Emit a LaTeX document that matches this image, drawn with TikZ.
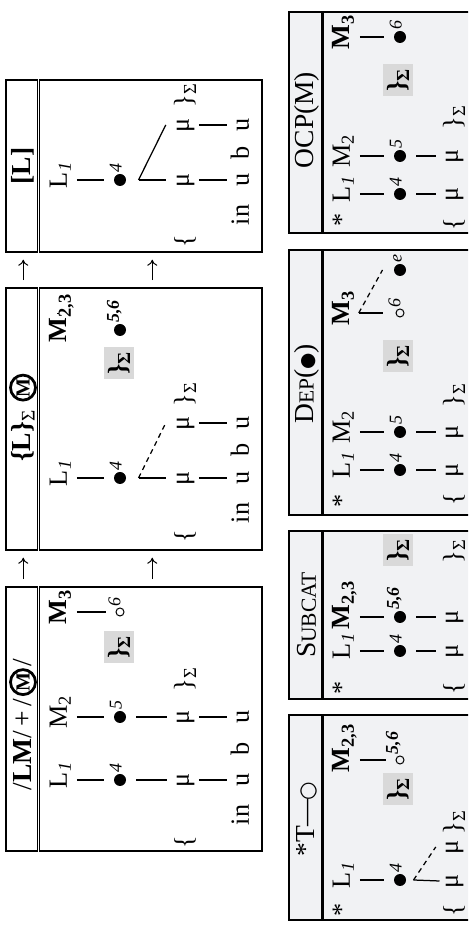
\documentclass[tikz,border=0pt]{standalone}
\usepackage{fontspec}
\setmainfont{Liberation Serif}
\usepackage{tikz}
\usetikzlibrary{arrows.meta, positioning}
\newfontfamily\symfont{DejaVu Sans}
\definecolor{panelgray}{HTML}{F1F2F4}
\definecolor{hilite}{HTML}{D9D9D9}

\begin{document}
\begin{tikzpicture}[x=0.4pt, y=-0.4pt, rotate=90, transform shape,
  font=\fontsize{10.5}{12.5}\selectfont, >={To[length=2.4pt,width=4pt]},
  box/.style={draw, line width=0.6pt, inner sep=0pt},
  cbox/.style={box, fill=panelgray},
  dsep/.style={double, double distance=0.55pt, line width=0.4pt},
  csep/.style={line width=1.1pt},
  ttl/.style={font=\fontsize{11}{13}\selectfont, inner sep=0pt},
  circm/.style={circle, draw, line width=1.1pt, inner sep=0pt, minimum size=10pt, font=\fontsize{8}{9}\selectfont\bfseries},
  lab/.style={inner sep=0pt, text height=7pt, text depth=0pt},
  mu/.style={inner sep=0pt, text height=4.6pt, text depth=0pt},
  ft/.style={inner sep=0pt},
  hilit/.style={fill=hilite, inner sep=1.6pt, font=\fontsize{10.5}{12.5}\selectfont\bfseries},
  tbu/.style={circle, fill, inner sep=0pt, minimum size=4.8pt},
  etbu/.style={circle, draw, line width=0.4pt, inner sep=0pt, minimum size=3.2pt},
  idx/.style={font=\fontsize{7.2}{8}\selectfont\itshape, inner sep=0.6pt},
  bidx/.style={idx, font=\fontsize{7.2}{8}\selectfont\bfseries\itshape},
  assoc/.style={line width=0.5pt, shorten <=3.8pt, shorten >=3.8pt},
  bassoc/.style={assoc, line width=1.1pt},
  link/.style={line width=0.5pt},
  ins/.style={line width=0.5pt, dash pattern=on 2pt off 1.6pt},
  arr/.style={->, line width=0.4pt, shorten <=2.8pt, shorten >=2.8pt}]

\clip (0,0) rectangle (925,468);

% Candidate boxes (upper row)
\node[box, minimum width=105.6pt, minimum height=102.4pt] (boxA) at (206,134) {};
\node[box, minimum width=104.8pt, minimum height=102.4pt] (boxB) at (506,134) {};
\node[box, minimum width=68.8pt, minimum height=102.4pt] (boxC) at (759,134) {};
\draw[dsep] ([yshift=-13.4pt]boxA.north west) -- ([yshift=-13.4pt]boxA.north east);
\draw[dsep] ([yshift=-13.4pt]boxB.north west) -- ([yshift=-13.4pt]boxB.north east);
\draw[dsep] ([yshift=-13.4pt]boxC.north west) -- ([yshift=-13.4pt]boxC.north east);

% Constraint boxes (lower row)
\node[cbox, minimum width=82pt, minimum height=92.4pt] (boxD) at (107.5,404.5) {};
\node[cbox, minimum width=67.2pt, minimum height=92.4pt] (boxE) at (310,404.5) {};
\node[cbox, minimum width=106pt, minimum height=92.4pt] (boxF) at (542.5,404.5) {};
\node[cbox, minimum width=88.4pt, minimum height=92.4pt] (boxG) at (802.5,404.5) {};
\draw[csep] ([yshift=-13.6pt]boxD.north west) -- ([yshift=-13.6pt]boxD.north east);
\draw[csep] ([yshift=-13.6pt]boxE.north west) -- ([yshift=-13.6pt]boxE.north east);
\draw[csep] ([yshift=-13.6pt]boxF.north west) -- ([yshift=-13.6pt]boxF.north east);
\draw[csep] ([yshift=-13.6pt]boxG.north west) -- ([yshift=-13.6pt]boxG.north east);

% Titles
\node[ttl, anchor=east] (tA) at (227,23) {/\textbf{LM}/\,+\,/};
\node[circm, right=0.8pt of tA] (cA) {M};
\node[ttl, right=0.4pt of cA] (tA2) {/};
\node[ttl, anchor=east] (tB) at (516,23) {\textbf{\{L\}}\textsubscript{Σ}};
\node[circm, right=3pt of tB] (cB) {M};
\node[ttl] (tC) at (759,23) {\textbf{[L]}};
\node[ttl] (tD) at (106,307) {*T\kern-0.4pt—\kern-0.4pt{\symfont\fontsize{8.5}{9}\selectfont ○}};
\node[ttl] (tE) at (310,307) {S{\fontsize{8.6}{9}\selectfont UBCAT}};
\node[ttl] (tF) at (541,307) {D{\fontsize{8.6}{9}\selectfont EP}({\symfont\fontsize{7.5}{8}\selectfont ●})};
\node[ttl] (tG) at (805,307) {OCP(M)};

% Arrows between candidates
\draw[arr] ([yshift=-7.2pt]boxA.north east) -- ([yshift=-7.2pt]boxB.north west);
\draw[arr] ([yshift=-58.8pt]boxA.north east) -- ([yshift=-58.8pt]boxB.north west);
\draw[arr] ([yshift=-7.2pt]boxB.north east) -- ([yshift=-7.2pt]boxC.north west);
\draw[arr] ([yshift=-58.8pt]boxB.north east) -- ([yshift=-58.8pt]boxC.north west);

% /LM/ + /M/
\node[lab] (a-l1) at (145,58) {L\rlap{\textsubscript{\textit{1}}}};
\node[lab] (a-m2) at (208,58) {M\rlap{\textsubscript{2}}};
\node[lab] (a-m3) at (313,58) {\textbf{M}\rlap{\textsubscript{\textbf{3}}}};
\node[tbu, label={[idx]-35:4}] (a-d4) at (145,120) {};
\node[tbu, label={[idx]-35:5}] (a-d5) at (208,120) {};
\node[etbu, label={[idx]-35:6}] (a-c6) at (313,120) {};
\node[hilit] (a-ft) at (278,119) {\}\textsubscript{Σ}};
\node[mu] (a-mu1) at (145,183) {μ};
\node[mu] (a-mu2) at (208,183) {μ};
\node[ft] (a-lb) at (83,185) {\{};
\node[ft] (a-rb) at (246,185) {\}\textsubscript{Σ}};
\node[mu] (a-s1) at (110,243) {in};
\node[mu] (a-s2) at (145,243) {u};
\node[mu] (a-s3) at (176,243) {b};
\node[mu] (a-s4) at (208,243) {u};
\draw[assoc] (a-l1) -- (a-d4);
\draw[assoc] (a-m2) -- (a-d5);
\draw[bassoc] (a-m3) -- (a-c6);
\draw[assoc] (a-d4) -- (a-mu1);
\draw[assoc] (a-d5) -- (a-mu2);
\draw[assoc] (a-mu1) -- (a-s2);
\draw[assoc] (a-mu2) -- (a-s4);

% {L} M
\node[lab] (b-l1) at (447,58) {L\rlap{\textsubscript{\textit{1}}}};
\node[lab] (b-m23) at (595,58) {\textbf{M}\rlap{\textsubscript{\textbf{2,3}}}};
\node[tbu, label={[idx]-35:4}] (b-d4) at (447,120) {};
\node[tbu, label={[bidx]-35:{5,6}}] (b-d56) at (595,120) {};
\node[hilit] (b-ft) at (562,119) {\}\textsubscript{Σ}};
\node[mu] (b-mu1) at (447,183) {μ};
\node[mu] (b-mu2) at (502,183) {μ};
\node[ft] (b-lb) at (389,185) {\{};
\node[ft] (b-rb) at (531,185) {\}\textsubscript{Σ}};
\node[mu] (b-s1) at (412,243) {in};
\node[mu] (b-s2) at (447,243) {u};
\node[mu] (b-s3) at (475,243) {b};
\node[mu] (b-s4) at (502,243) {u};
\coordinate[below=4.8pt of b-d4] (b-k4);
\coordinate[above=4.4pt of b-mu1] (b-t1);
\coordinate[above=4.4pt of b-mu2] (b-t2);
\coordinate[right=5.6pt of b-m23] (b-m23r);
\draw[assoc] (b-l1) -- (b-d4);
\draw[link] (b-k4) -- (b-t1);
\draw[ins] (b-k4) -- (b-t2);
\draw[bassoc, shorten >=6.6pt] (b-m23r) -- (b-m23r -| b-d56);
\draw[assoc] (b-mu1) -- (b-s2);
\draw[assoc] (b-mu2) -- (b-s4);

% [L]
\node[lab] (c-l1) at (745,58) {L\rlap{\textsubscript{\textit{1}}}};
\node[tbu, label={[idx]-35:4}] (c-d4) at (745,120) {};
\node[mu] (c-mu1) at (745,183) {μ};
\node[mu] (c-mu2) at (800,183) {μ};
\node[ft] (c-lb) at (684,185) {\{};
\node[ft] (c-rb) at (830,185) {\}\textsubscript{Σ}};
\node[mu] (c-s1) at (710,243) {in};
\node[mu] (c-s2) at (745,243) {u};
\node[mu] (c-s3) at (772,243) {b};
\node[mu] (c-s4) at (800,243) {u};
\coordinate[below=4.8pt of c-d4] (c-k4);
\coordinate[above=4.4pt of c-mu1] (c-t1);
\coordinate[above=4.4pt of c-mu2] (c-t2);
\draw[assoc] (c-l1) -- (c-d4);
\draw[link] (c-k4) -- (c-t1);
\draw[link] (c-k4) -- (c-t2);
\draw[assoc] (c-mu1) -- (c-s2);
\draw[assoc] (c-mu2) -- (c-s4);

% *T--o
\node[lab] (d-st) at (15,341) {*};
\node[lab] (d-l1) at (45,341) {L\rlap{\textsubscript{\textit{1}}}};
\node[lab] (d-m23) at (165,341) {\textbf{M}\rlap{\textsubscript{\textbf{2,3}}}};
\node[tbu, label={[idx]-35:4}] (d-d4) at (45,400) {};
\node[etbu, label={[bidx]-35:{5,6}}] (d-c56) at (165,400) {};
\node[hilit] (d-ft) at (136,398) {\}\textsubscript{Σ}};
\node[mu] (d-mu1) at (44,452) {μ};
\node[mu] (d-mu2) at (78,452) {μ};
\node[ft] (d-lb) at (15,454) {\{};
\node[ft] (d-rb) at (103,454) {\}\textsubscript{Σ}};
\coordinate[below=2.8pt of d-d4] (d-k4);
\coordinate[above=2.5pt of d-mu1] (d-t1);
\coordinate[above=4pt of d-mu2] (d-t2);
\draw[assoc] (d-l1) -- (d-d4);
\draw[link] (d-k4) -- (d-t1);
\draw[ins] (d-k4) -- (d-t2);
\draw[bassoc] (d-m23) -- (d-c56);

% Subcat
\node[lab] (e-st) at (237,341) {*};
\node[lab] (e-l1) at (274,341) {L\rlap{\textsubscript{\textit{1}}}};
\node[lab] (e-m23) at (308,341) {\textbf{M}\rlap{\textsubscript{\textbf{2,3}}}};
\node[tbu, label={[idx]-35:4}] (e-d4) at (274,400) {};
\node[tbu, label={[bidx]-35:{5,6}}] (e-d56) at (308,400) {};
\node[hilit] (e-ft) at (375,398) {\}\textsubscript{Σ}};
\node[mu] (e-mu1) at (274,452) {μ};
\node[mu] (e-mu2) at (308,452) {μ};
\node[ft] (e-lb) at (237,454) {\{};
\node[ft] (e-rb) at (374,454) {\}\textsubscript{Σ}};
\draw[assoc] (e-l1) -- (e-d4);
\draw[bassoc] (e-m23) -- (e-d56);
\draw[assoc] (e-d4) -- (e-mu1);
\draw[assoc] (e-d56) -- (e-mu2);

% Dep
\node[lab] (f-st) at (424,341) {*};
\node[lab] (f-l1) at (455,341) {L\rlap{\textsubscript{\textit{1}}}};
\node[lab] (f-m2) at (493,341) {M\rlap{\textsubscript{2}}};
\node[lab] (f-m3) at (612,341) {\textbf{M}\rlap{\textsubscript{\textbf{3}}}};
\node[tbu, label={[idx]-35:4}] (f-d4) at (455,400) {};
\node[tbu, label={[idx]-35:5}] (f-d5) at (493,400) {};
\node[etbu, label={[idx]-35:6}] (f-c6) at (612,400) {};
\node[tbu, label={[idx]-35:e}] (f-de) at (655,400) {};
\node[hilit] (f-ft) at (569,398) {\}\textsubscript{Σ}};
\node[mu] (f-mu1) at (455,452) {μ};
\node[mu] (f-mu2) at (493,452) {μ};
\node[ft] (f-lb) at (426,454) {\{};
\node[ft] (f-rb) at (530,454) {\}\textsubscript{Σ}};
\coordinate[below=3.4pt of f-m3] (f-k3);
\coordinate[above=5.2pt of f-c6] (f-t6);
\coordinate[above=4.4pt of f-de] (f-te);
\draw[assoc] (f-l1) -- (f-d4);
\draw[assoc] (f-m2) -- (f-d5);
\draw[link] (f-k3) -- (f-t6);
\draw[ins] (f-k3) -- (f-te);
\draw[assoc] (f-d4) -- (f-mu1);
\draw[assoc] (f-d5) -- (f-mu2);

% OCP(M)
\node[lab] (g-st) at (705,341) {*};
\node[lab] (g-l1) at (731,341) {L\rlap{\textsubscript{\textit{1}}}};
\node[lab] (g-m2) at (769,341) {M\rlap{\textsubscript{2}}};
\node[lab] (g-m3) at (888,341) {\textbf{M}\rlap{\textsubscript{\textbf{3}}}};
\node[tbu, label={[idx]-35:4}] (g-d4) at (731,400) {};
\node[tbu, label={[idx]-35:5}] (g-d5) at (769,400) {};
\node[tbu, label={[idx]-35:6}] (g-d6) at (888,400) {};
\node[hilit] (g-ft) at (845,398) {\}\textsubscript{Σ}};
\node[mu] (g-mu1) at (731,452) {μ};
\node[mu] (g-mu2) at (769,452) {μ};
\node[ft] (g-lb) at (701,454) {\{};
\node[ft] (g-rb) at (808,454) {\}\textsubscript{Σ}};
\draw[assoc] (g-l1) -- (g-d4);
\draw[assoc] (g-m2) -- (g-d5);
\draw[bassoc] (g-m3) -- (g-d6);
\draw[assoc] (g-d4) -- (g-mu1);
\draw[assoc] (g-d5) -- (g-mu2);

\end{tikzpicture}
\end{document}
